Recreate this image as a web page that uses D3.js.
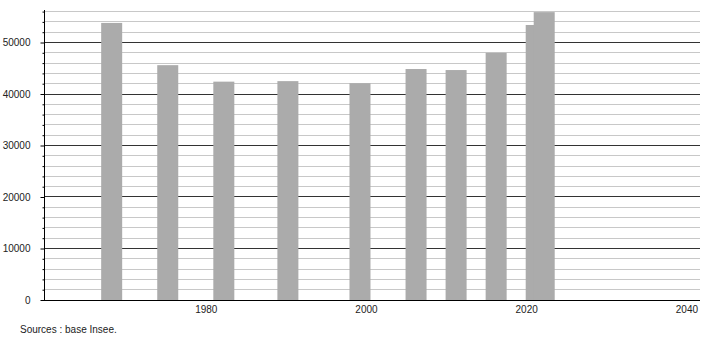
<!DOCTYPE html>
<html>
<head>
<meta charset="utf-8">
<script src="https://cdn.jsdelivr.net/npm/d3@7"></script>
<style>
  body { margin: 0; background: #fff; }
  text { font-family: "Liberation Sans", Arial, sans-serif; font-size: 10px; fill: #222; }
</style>
</head>
<body>
<div id="chart"></div>
<script>
// census years and population
var years = [1968, 1975, 1982, 1990, 1999, 2006, 2011, 2016, 2021, 2022];
var population = [53800, 45600, 42400, 42500, 42100, 44850, 44650, 48000, 53400, 55900];
var xTicks = [1980, 2000, 2020, 2040];
var yTicks = [0, 10000, 20000, 30000, 40000, 50000];
var source = "Sources : base Insee.";

var width = 710, height = 340;

var svg = d3.select("#chart")
  .append("svg")
    .attr("width", width)
    .attr("height", height);

var x = d3.scaleLinear()
    .domain([1959.8, 2041.7])
    .range([44, 700]);

var y = d3.scaleLinear()
    .domain([0, 56000])
    .range([300, 11.6]);

// minor grid every 2000, major every 10000
var grid = d3.range(2000, 56001, 2000);
svg.append("g")
  .selectAll("line")
  .data(grid)
  .enter()
  .append("line")
    .attr("x1", 44)
    .attr("x2", 700)
    .attr("y1", d => Math.round(y(d) - 0.5) + 0.5)
    .attr("y2", d => Math.round(y(d) - 0.5) + 0.5)
    .attr("stroke", d => d % 10000 == 0 ? "#333" : "#c8c8c8")
    .attr("stroke-width", 1);

// bars
svg.append("g")
  .selectAll("rect")
  .data(years)
  .enter()
  .append("rect")
    .attr("x", d => x(d) - 8.5)
    .attr("width", 21)
    .attr("y", (d, i) => y(population[i]))
    .attr("height", (d, i) => y(0) - y(population[i]))
    .attr("fill", "#ababab");

// y axis
var yAxis = d3.axisLeft(y)
    .tickValues(grid.concat([0]))
    .tickSize(2)
    .tickFormat(d => yTicks.indexOf(d) >= 0 ? d : "");
var gy = svg.append("g")
    .attr("transform", "translate(44.5,0)")
    .call(yAxis);
gy.select(".domain").remove();
gy.selectAll(".tick line")
    .attr("x2", d => d % 10000 == 0 ? -4 : -2)
    .attr("stroke", "#000");
gy.selectAll(".tick text")
    .attr("x", -14)
    .attr("font-family", null)
    .attr("font-size", null);
gy.append("line")
    .attr("x1", 0).attr("x2", 0)
    .attr("y1", 10).attr("y2", 300)
    .attr("stroke", "#000");

// x axis
var xAxis = d3.axisBottom(x)
    .tickValues(xTicks)
    .tickSize(0)
    .tickFormat(d3.format("d"));
var gx = svg.append("g")
    .attr("transform", "translate(0,300.5)")
    .call(xAxis);
gx.select(".domain").remove();
gx.selectAll(".tick text")
    .attr("y", 5)
    .attr("font-family", null)
    .attr("font-size", null);
gx.append("line")
    .attr("x1", 44).attr("x2", 700)
    .attr("y1", 0).attr("y2", 0)
    .attr("stroke", "#000");

svg.append("text")
    .attr("x", 20)
    .attr("y", 333)
    .text(source);
</script>
</body>
</html>
